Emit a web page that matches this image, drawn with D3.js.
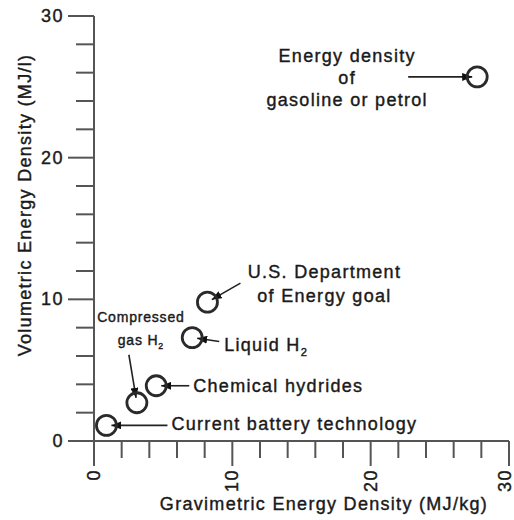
<!DOCTYPE html>
<html>
<head>
<meta charset="utf-8">
<script src="https://cdn.jsdelivr.net/npm/d3@7"></script>
<style>
  html, body { margin: 0; padding: 0; background: #fff; }
  svg { display: block; }
  text { font-family: "Liberation Sans", Arial, Helvetica, sans-serif; fill: #1a1a1a; stroke: #1a1a1a; stroke-width: 0.4px; }
</style>
</head>
<body>
<svg id="chart" width="514" height="520"></svg>
<script>
// Storage technologies: gravimetric (MJ/kg) vs volumetric (MJ/l) energy density
const names = ["gasoline", "doe", "liquid", "hydrides", "compressed", "battery"];
const gravimetric = [27.7, 8.2, 7.1, 4.5, 3.1, 0.9];
const volumetric = [25.7, 9.8, 7.3, 3.9, 2.7, 1.1];

const majorTicks = [0, 10, 20, 30];
const minorTicks = [2, 4, 6, 8, 12, 14, 16, 18, 22, 24, 26, 28];

const xTitle = "Gravimetric Energy Density (MJ/kg)";
const yTitle = "Volumetric Energy Density (MJ/l)";

// Callout text, one array of lines per point ("_2" marks a subscript 2)
const labelLines = [
  ["Energy density", "of", "gasoline or petrol"],
  ["U.S. Department", "of Energy goal"],
  ["Liquid H_2"],
  ["Chemical hydrides"],
  ["Compressed", "gas H_2"],
  ["Current battery technology"]
];

// Layout of each callout relative to its circle (pixels)
const layout = {
  gasoline:   { anchor: "middle", dx: -130, dy: [-15, 7, 29], size: 18, arrow: [-69, 0] },
  doe:        { anchor: "middle", dx: 117, dy: [-24, 0], size: 18, arrow: [33, -19] },
  liquid:     { anchor: "start", dx: 32, dy: [13], size: 18, arrow: [27, 4] },
  hydrides:   { anchor: "start", dx: 37, dy: [6], size: 18, arrow: [33, 0] },
  compressed: { anchor: "middle", dx: 4, dy: [-81, -58], size: 14, arrow: [-8, -48] },
  battery:    { anchor: "start", dx: 65, dy: [5], size: 18, arrow: [61, 0] }
};

const svg = d3.select("#chart");
const ink = "#2a2a2a";

const x = d3.scaleLinear().domain([0, 30]).range([94, 509]);
const y = d3.scaleLinear().domain([0, 30]).range([441, 16]);

// Arrowhead
svg.append("defs").append("marker")
  .attr("id", "head")
  .attr("viewBox", "0 0 10 8")
  .attr("refX", 10).attr("refY", 4)
  .attr("markerWidth", 10).attr("markerHeight", 8)
  .attr("markerUnits", "userSpaceOnUse")
  .attr("orient", "auto")
  .append("path").attr("d", "M0,0 L10,4 L0,8 Z").attr("fill", "#111");

// Axes
const axes = svg.append("g").attr("stroke", "#555").attr("stroke-width", 2);
axes.append("line").attr("x1", x(0)).attr("x2", x(0)).attr("y1", y(30)).attr("y2", y(0) + 24);
axes.append("line").attr("x1", x(0) - 26).attr("x2", x(30)).attr("y1", y(0)).attr("y2", y(0));

// Y ticks
axes.selectAll(".ymaj").data(majorTicks).join("line")
  .attr("x1", x(0) - 26).attr("x2", x(0)).attr("y1", d => y(d)).attr("y2", d => y(d));
axes.selectAll(".ymin").data(minorTicks).join("line")
  .attr("x1", x(0) - 18).attr("x2", x(0)).attr("y1", d => y(d)).attr("y2", d => y(d));
// X ticks
axes.selectAll(".xmaj").data(majorTicks).join("line")
  .attr("x1", d => x(d)).attr("x2", d => x(d)).attr("y1", y(0)).attr("y2", y(0) + 25);
axes.selectAll(".xmin").data(minorTicks).join("line")
  .attr("x1", d => x(d)).attr("x2", d => x(d)).attr("y1", y(0)).attr("y2", y(0) + 17);

const tickStyle = s => s.attr("font-size", 18).attr("letter-spacing", "1.5px");

svg.selectAll(".ylab").data(majorTicks).join("text")
  .attr("x", x(0) - 30).attr("y", d => y(d))
  .attr("text-anchor", "end").attr("dominant-baseline", "central")
  .call(tickStyle).text(d => d);

svg.selectAll(".xlab").data(majorTicks).join("text")
  .attr("transform", d => `translate(${Math.min(x(d), 505)},${y(0) + 28}) rotate(-90)`)
  .attr("text-anchor", "end").attr("dominant-baseline", "central")
  .call(tickStyle).text(d => d);

// Axis titles
svg.append("text")
  .attr("x", 324).attr("y", 510).attr("text-anchor", "middle")
  .attr("font-size", 18).attr("letter-spacing", "1.3px").text(xTitle);
svg.append("text")
  .attr("transform", "translate(31,205) rotate(-90)").attr("text-anchor", "middle")
  .attr("font-size", 18).attr("letter-spacing", "1.3px").text(yTitle);

// Points, callout arrows and labels
const pts = names.map((n, i) => ({ name: n, gx: gravimetric[i], vy: volumetric[i], lines: labelLines[i] }));

const arrows = svg.append("g");
pts.forEach(p => {
  const L = layout[p.name];
  const cx = x(p.gx), cy = y(p.vy);
  const [ax, ay] = L.arrow;
  const len = Math.hypot(ax, ay);
  arrows.append("line")
    .attr("x1", cx + ax).attr("y1", cy + ay)
    .attr("x2", cx + ax / len * 5).attr("y2", cy + ay / len * 5)
    .attr("stroke", "#222").attr("stroke-width", 1.6)
    .attr("marker-end", "url(#head)");
});

svg.append("g").selectAll("circle").data(pts).join("circle")
  .attr("cx", d => x(d.gx)).attr("cy", d => y(d.vy)).attr("r", 10)
  .attr("fill", "none").attr("stroke", ink).attr("stroke-width", 2.8);

pts.forEach(p => {
  const L = layout[p.name];
  const cx = x(p.gx), cy = y(p.vy);
  p.lines.forEach((line, k) => {
    const t = svg.append("text")
      .attr("x", cx + L.dx).attr("y", cy + L.dy[k])
      .attr("text-anchor", L.anchor)
      .attr("font-size", L.size)
      .attr("letter-spacing", L.size > 15 ? "1.3px" : "0.8px");
    const parts = line.split("_");
    t.append("tspan").text(parts[0]);
    if (parts.length > 1) {
      t.append("tspan").attr("font-size", L.size * 0.62).attr("dy", L.size * 0.28).text(parts[1]);
    }
  });
});
</script>
</body>
</html>
